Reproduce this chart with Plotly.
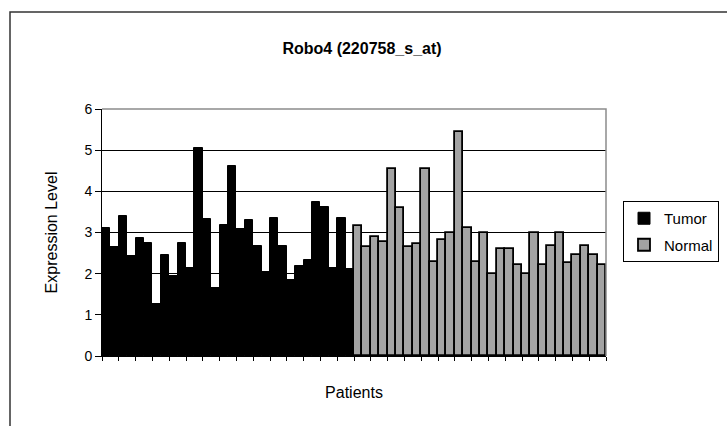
import plotly.graph_objects as go

tumor_patients = [f"T{i}" for i in range(1, 31)]
tumor_values = [3.12, 2.64, 3.41, 2.42, 2.86, 2.74, 1.26, 2.46, 1.94, 2.74,
                2.14, 5.06, 3.34, 1.66, 3.18, 4.62, 3.08, 3.30, 2.68, 2.04,
                3.35, 2.68, 1.85, 2.18, 2.34, 3.75, 3.63, 2.14, 3.35, 2.12]

normal_patients = [f"N{i}" for i in range(1, 31)]
normal_values = [3.16, 2.64, 2.88, 2.76, 4.54, 3.60, 2.64, 2.72, 4.54, 2.28,
                 2.82, 2.98, 5.44, 3.10, 2.28, 2.98, 2.00, 2.60, 2.60, 2.22,
                 1.98, 2.98, 2.20, 2.67, 2.98, 2.27, 2.45, 2.67, 2.45, 2.22]

y_ticks = [0, 1, 2, 3, 4, 5, 6]

FONT = "Liberation Sans, Arial, sans-serif"

fig = go.Figure()
fig.add_trace(go.Bar(
    x=tumor_patients, y=tumor_values, name="Tumor",
    marker=dict(color="black", line=dict(color="black", width=1)),
    legendgroup="t",
))
fig.add_trace(go.Bar(
    x=normal_patients, y=normal_values, name="Normal",
    marker=dict(color="#a3a3a3", line=dict(color="black", width=1.8)),
    legendgroup="n",
))

W, H = 727, 426
L, R, T, B = 102, 121, 109, 70
pw, ph = W - L - R, H - T - B

def px_x(x):
    return (x - L) / pw

def px_y(y):
    return (H - B - y) / ph

fig.update_layout(
    width=W, height=H,
    margin=dict(l=L, r=R, t=T, b=B, autoexpand=False),
    paper_bgcolor="white", plot_bgcolor="white",
    barmode="overlay", bargap=0,
    font=dict(family=FONT, color="black", size=15),
    title=dict(text="<b>Robo4 (220758_s_at)</b>", x=px_x(362), xref="paper",
               xanchor="center", y=1 - 48 / H, yanchor="middle",
               font=dict(size=16, family=FONT, color="black")),
    legend=dict(x=px_x(623), y=px_y(201), xanchor="left", yanchor="top",
                bordercolor="black", borderwidth=1, bgcolor="white",
                font=dict(size=15, family=FONT), tracegroupgap=4,
                traceorder="grouped", itemwidth=30),
    showlegend=True,
)

fig.update_xaxes(
    categoryorder="array", categoryarray=tumor_patients + normal_patients,
    showticklabels=False, ticks="outside", ticklen=4, tickcolor="black",
    tickson="boundaries", showline=True, linecolor="black", linewidth=1,
    showgrid=False,
    title=dict(text="Patients", standoff=30, font=dict(size=16, family=FONT)),
)
fig.update_yaxes(
    range=[0, 6], tickvals=y_ticks, ticks="outside", ticklen=6, tickcolor="black",
    showline=True, linecolor="black", linewidth=1,
    showgrid=True, gridcolor="black", gridwidth=1.2, zeroline=False,
    tickfont=dict(size=14, family=FONT),
    title=dict(text="Expression Level", standoff=22, font=dict(size=16, family=FONT)),
)

# plot-area border (top and right) in gray
fig.add_shape(type="path", xref="paper", yref="paper",
              path="M 0,1 L 1,1 L 1,0", line=dict(color="#8c8c8c", width=1.5),
              layer="above")
# outer chart border
fig.add_shape(type="rect", xref="paper", yref="paper",
              x0=px_x(10), y0=px_y(440), x1=px_x(740), y1=px_y(12),
              line=dict(color="#333333", width=1.5), layer="below")

fig.write_html("out.html")
